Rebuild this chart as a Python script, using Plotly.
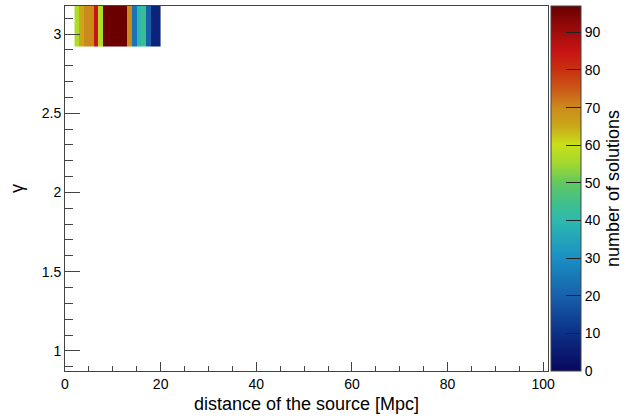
import plotly.graph_objects as go

# Data: number of solutions per (distance, gamma) bin
distance_edges = [2, 3, 4, 5, 6, 7, 8, 9, 10, 11, 12, 13, 14, 15, 16, 17, 18, 19, 20]
gamma_edges = [2.92, 3.18]
n_solutions = [57, 65, 70, 70, 85, 57, 97, 97, 97, 97, 97, 70, 24, 40, 44, 20, 7, 7]

x_tick_vals = [0, 20, 40, 60, 80, 100]
y_tick_vals = [1, 1.5, 2, 2.5, 3]
z_tick_vals = [0, 10, 20, 30, 40, 50, 60, 70, 80, 90]

colorscale = [
    [0.00, "#08085e"],
    [0.10, "#0c2e84"],
    [0.206, "#1860ac"],
    [0.31, "#1a90c4"],
    [0.41, "#2cb8b0"],
    [0.464, "#40c088"],
    [0.515, "#60c860"],
    [0.567, "#a0d830"],
    [0.62, "#c8e01a"],
    [0.67, "#c8a818"],
    [0.72, "#cc8c1c"],
    [0.773, "#cc5818"],
    [0.825, "#c83010"],
    [0.876, "#c81414"],
    [0.928, "#a00c0c"],
    [1.00, "#6a0000"],
]

FONT = "Liberation Sans, Arial, Helvetica, sans-serif"

fig = go.Figure()
fig.add_trace(go.Heatmap(
    x=distance_edges,
    y=gamma_edges,
    z=[n_solutions],
    zmin=0,
    zmax=97,
    colorscale=colorscale,
    colorbar=dict(
        thickness=30,
        thicknessmode="pixels",
        len=1,
        lenmode="fraction",
        y=0.5,
        yanchor="middle",
        x=(551 - 65) / 483,
        xanchor="left",
        xpad=0,
        ypad=0,
        outlinewidth=1,
        outlinecolor="#444444",
        tickvals=z_tick_vals,
        ticksuffix="\u00a0",
        ticks="inside",
        ticklen=15,
        tickwidth=1,
        tickcolor="#222222",
        tickfont=dict(family=FONT, size=14, color="black"),
        title=dict(text="number of solutions", side="right",
                   font=dict(family=FONT, size=18, color="black")),
    ),
    hoverinfo="skip",
))

fig.update_layout(
    width=635,
    height=418,
    margin=dict(l=65, r=87, t=6, b=47),
    paper_bgcolor="white",
    plot_bgcolor="white",
    font=dict(family=FONT, size=14, color="black"),
    xaxis=dict(
        range=[0, 101],
        tickvals=x_tick_vals,
        ticks="inside",
        ticklen=9,
        tickcolor="#444444",
        showline=True,
        linecolor="#444444",
        linewidth=1,
        mirror=True,
        showgrid=False,
        zeroline=False,
        tickfont=dict(family=FONT, size=14),
        minor=dict(dtick=5, ticks="inside", ticklen=5, tickcolor="#444444", showgrid=False),
        title=dict(text="distance of the source [Mpc]", font=dict(family=FONT, size=18), standoff=6),
    ),
    yaxis=dict(
        range=[0.873, 3.177],
        tickvals=y_tick_vals,
        ticktext=["1", "1.5", "2", "2.5", "3"],
        ticks="inside",
        ticklen=15,
        tickcolor="#444444",
        showline=True,
        linecolor="#444444",
        linewidth=1,
        mirror=True,
        showgrid=False,
        zeroline=False,
        tickfont=dict(family=FONT, size=14),
        minor=dict(dtick=0.1, tick0=0, ticks="inside", ticklen=8, tickcolor="#444444", showgrid=False),
        title=dict(text="γ", font=dict(family=FONT, size=18), standoff=13),
    ),
)

fig.write_html(
    "out.html",
    config={"displayModeBar": False, "staticPlot": True},
    post_script="document.body.style.margin='0';document.body.style.padding='0';",
)
